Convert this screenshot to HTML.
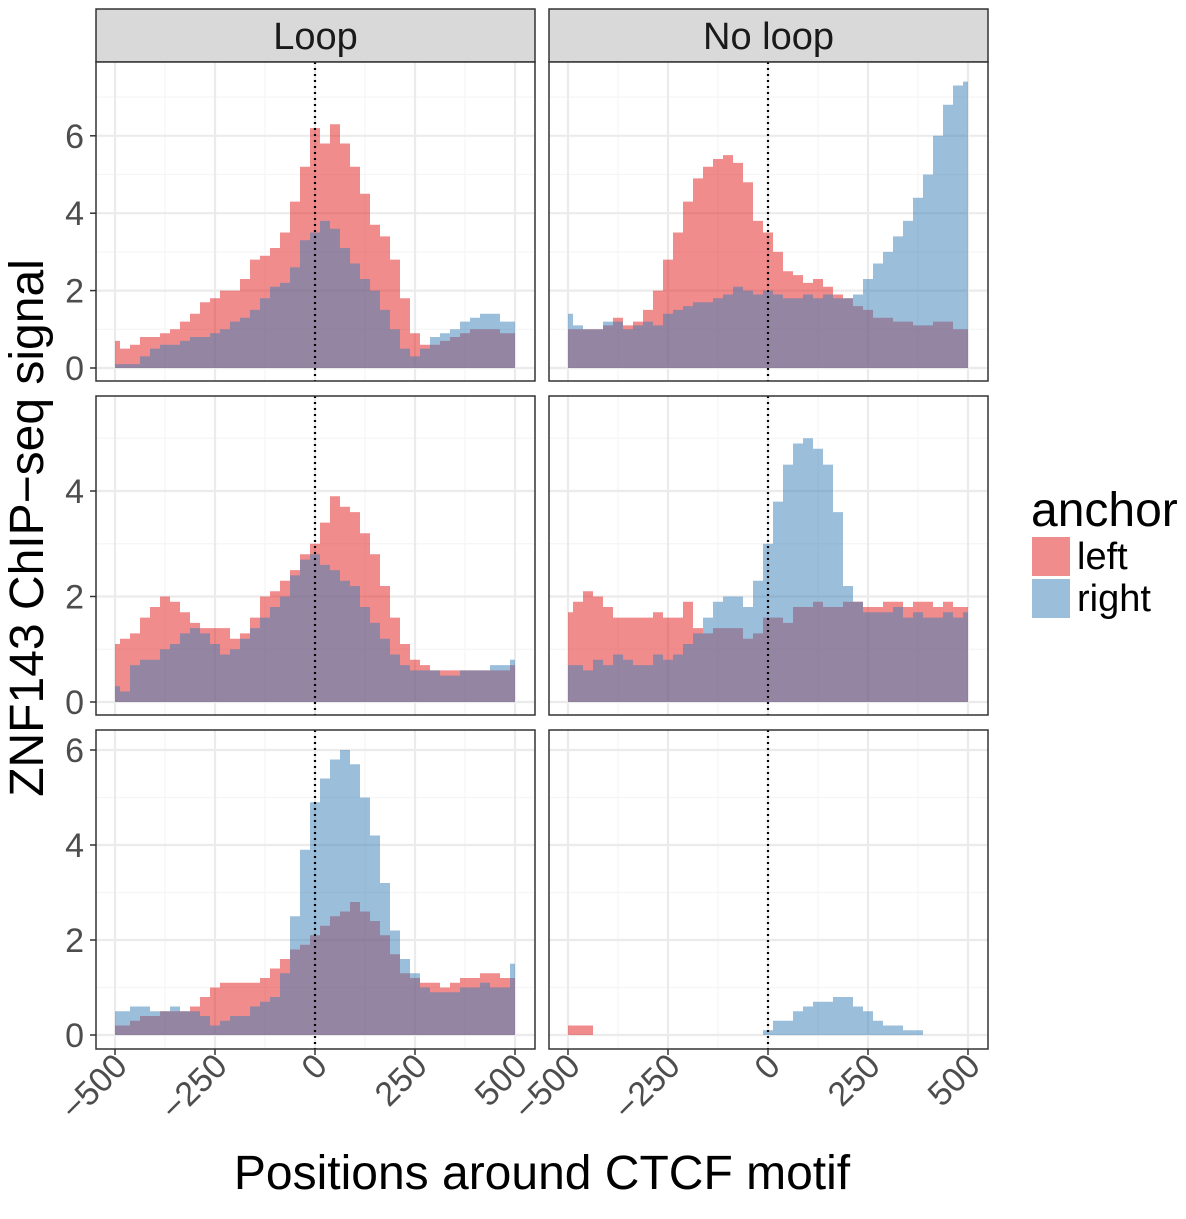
<!DOCTYPE html>
<html><head><meta charset="utf-8"><style>
body{margin:0;background:#fff;}
svg text{font-family:"Liberation Sans",sans-serif;}
</style></head><body>
<svg id="chart" width="1186" height="1214" xmlns="http://www.w3.org/2000/svg">
<g id="root"></g>
</svg>
<script>
const positions=[-500,-475,-450,-425,-400,-375,-350,-325,-300,-275,-250,-225,-200,-175,-150,-125,-100,-75,-50,-25,0,25,50,75,100,125,150,175,200,225,250,275,300,325,350,375,400,425,450,475,500];
const loopTopLeft=[0.7,0.5,0.6,0.8,0.8,0.9,1.0,1.2,1.4,1.7,1.8,2.0,2.0,2.3,2.8,2.9,3.1,3.5,4.3,5.2,6.2,5.8,6.3,5.8,5.2,4.5,3.7,3.4,2.8,1.8,0.9,0.6,0.6,0.7,0.8,0.9,1.0,1.0,1.0,0.9,0.9];
const loopTopRight=[0.1,0.1,0.1,0.3,0.5,0.6,0.6,0.7,0.8,0.8,0.9,1.0,1.2,1.3,1.5,1.8,2.1,2.2,2.6,3.3,3.5,3.8,3.6,3.1,2.7,2.3,2.0,1.5,1.0,0.5,0.3,0.5,0.8,0.9,1.0,1.2,1.3,1.4,1.4,1.2,1.2];
const noLoopTopLeft=[1.0,1.0,1.0,1.0,1.1,1.3,1.1,1.2,1.5,2.0,2.8,3.5,4.3,4.9,5.2,5.4,5.5,5.3,4.8,3.8,3.5,3.0,2.5,2.4,2.2,2.3,2.1,1.9,1.8,1.6,1.5,1.3,1.3,1.2,1.2,1.1,1.1,1.2,1.2,1.0,1.0];
const noLoopTopRight=[1.4,1.1,1.0,1.0,1.2,1.2,1.0,1.1,1.2,1.1,1.4,1.5,1.6,1.7,1.7,1.8,1.9,2.1,2.0,1.9,2.0,1.9,1.8,1.8,1.9,1.8,1.9,1.8,1.8,1.9,2.3,2.7,3.0,3.4,3.8,4.4,5.0,6.0,6.8,7.3,7.4];
const loopMidLeft=[1.1,1.2,1.3,1.6,1.8,2.0,1.9,1.7,1.5,1.4,1.4,1.4,1.2,1.3,1.6,2.0,2.1,2.3,2.5,2.8,3.0,3.4,3.9,3.7,3.6,3.2,2.8,2.2,1.6,1.1,0.8,0.7,0.6,0.6,0.6,0.6,0.6,0.6,0.6,0.6,0.7];
const loopMidRight=[0.3,0.2,0.7,0.8,0.8,1.0,1.1,1.3,1.4,1.3,1.1,0.9,1.0,1.2,1.4,1.6,1.8,2.0,2.4,2.7,2.8,2.6,2.5,2.3,2.2,1.8,1.5,1.2,0.9,0.7,0.6,0.6,0.6,0.5,0.5,0.6,0.6,0.6,0.7,0.7,0.8];
const noLoopMidLeft=[1.7,1.9,2.1,2.0,1.8,1.6,1.6,1.6,1.6,1.7,1.6,1.6,1.9,1.4,1.3,1.4,1.4,1.4,1.2,1.3,1.6,1.6,1.5,1.8,1.8,1.9,1.8,1.8,1.9,1.9,1.8,1.8,1.9,1.9,1.8,1.9,1.9,1.8,1.9,1.8,1.8];
const noLoopMidRight=[0.7,0.7,0.6,0.8,0.7,0.9,0.8,0.7,0.7,0.9,0.8,0.9,1.1,1.3,1.6,1.9,2.0,2.0,1.8,2.3,3.0,3.8,4.5,4.9,5.0,4.8,4.5,3.6,2.2,1.9,1.7,1.7,1.7,1.8,1.6,1.7,1.6,1.6,1.7,1.6,1.7];
const loopBotLeft=[0.2,0.2,0.3,0.4,0.4,0.5,0.5,0.5,0.6,0.8,1.0,1.1,1.1,1.1,1.1,1.2,1.4,1.6,1.8,1.9,2.1,2.3,2.5,2.6,2.8,2.6,2.4,2.1,1.7,1.3,1.2,1.1,1.1,1.0,1.1,1.2,1.2,1.3,1.3,1.2,1.2];
const loopBotRight=[0.5,0.5,0.6,0.6,0.5,0.5,0.6,0.5,0.5,0.4,0.2,0.3,0.4,0.4,0.6,0.7,0.8,1.3,2.5,3.9,4.9,5.4,5.8,6.0,5.7,5.0,4.2,3.2,2.2,1.6,1.3,1.0,0.9,0.9,0.9,1.0,1.0,1.1,1.0,1.0,1.5];
const noLoopBotLeft=[0.2,0.2,0.2,0,0,0,0,0,0,0,0,0,0,0,0,0,0,0,0,0,0,0,0,0,0,0,0,0,0,0,0,0,0,0,0,0,0,0,0,0,0];
const noLoopBotRight=[0,0,0,0,0,0,0,0,0,0,0,0,0,0,0,0,0,0,0,0,0.1,0.3,0.3,0.5,0.6,0.7,0.7,0.8,0.8,0.6,0.5,0.3,0.2,0.2,0.1,0.1,0,0,0,0,0];
const xTicks=[-500,-250,0,250,500];
const xTickLabels=["\u2212500","\u2212250","0","250","500"];
const yTicks=[0,2,4,6];
const facetLabels=["Loop","No loop"];

const NS="http://www.w3.org/2000/svg";
const root=document.getElementById('root');
function mk(tag,attrs,parent){const e=document.createElementNS(NS,tag);for(const k in attrs)e.setAttribute(k,attrs[k]);(parent||root).appendChild(e);return e;}

const cols=[{x0:96,x1:535,left:115,right:515},{x0:549,x1:988,left:568,right:968}];
const rows=[{y0:62,y1:381,zero:368,per:38.7,max:7.8},{y0:396,y1:715,zero:702,per:52.75,max:5.7},{y0:730,y1:1049,zero:1035,per:47.5,max:6.6}];
const data=[[[loopTopLeft,loopTopRight],[noLoopTopLeft,noLoopTopRight]],[[loopMidLeft,loopMidRight],[noLoopMidLeft,noLoopMidRight]],[[loopBotLeft,loopBotRight],[noLoopBotLeft,noLoopBotRight]]];

cols.forEach((c,ci)=>{
  const s=mk('rect',{x:c.x0,y:9,width:c.x1-c.x0,height:53,fill:'#D9D9D9',stroke:'#333',"stroke-width":1.5});
  
  
  const t=mk('text',{x:(c.x0+c.x1)/2,y:49,"font-size":38,"text-anchor":"middle",fill:'#1A1A1A'});
  t.textContent=facetLabels[ci];
  
  
});

rows.forEach((r,ri)=>{
  cols.forEach((c,ci)=>{
    const g=mk('g',{});
    
    
    const xs=v=>c.left+(v+500)*(c.right-c.left)/1000;
    const ys=v=>r.zero-v*r.per;
    mk('rect',{x:c.x0,y:r.y0,width:c.x1-c.x0,height:r.y1-r.y0,fill:'#fff'},g);
    [-375,-125,125,375].forEach(v=>mk('line',{x1:xs(v),x2:xs(v),y1:r.y0,y2:r.y1,stroke:'#F5F5F5',"stroke-width":1.2},g));
    for(let v=1;v<r.max;v+=2){mk('line',{x1:c.x0,x2:c.x1,y1:ys(v),y2:ys(v),stroke:'#F5F5F5',"stroke-width":1.2},g);}
    xTicks.forEach(v=>mk('line',{x1:xs(v),x2:xs(v),y1:r.y0,y2:r.y1,stroke:'#EBEBEB',"stroke-width":2.2},g));
    yTicks.forEach(v=>{if(v<r.max)mk('line',{x1:c.x0,x2:c.x1,y1:ys(v),y2:ys(v),stroke:'#EBEBEB',"stroke-width":2.2},g);});
    const fills=['rgba(228,26,28,0.5)','rgba(55,126,184,0.5)'];
    data[ri][ci].forEach((vals,si)=>{
      let d='M'+xs(-500)+','+ys(0);
      vals.forEach((v,i)=>{
        const a=Math.max(-500,positions[i]-12.5),b=Math.min(500,positions[i]+12.5);
        d+=' L'+xs(a).toFixed(1)+','+ys(v).toFixed(1)+' L'+xs(b).toFixed(1)+','+ys(v).toFixed(1);
      });
      d+=' L'+xs(500)+','+ys(0)+' Z';
      const p=mk('path',{d:d,fill:fills[si]},g);
      
      
    });
    const vl=mk('line',{x1:xs(0),x2:xs(0),y1:r.y0,y2:r.y1,stroke:'#000',"stroke-width":2.2,"stroke-dasharray":"2,4"},g);
    
    
    mk('rect',{x:c.x0,y:r.y0,width:c.x1-c.x0,height:r.y1-r.y0,fill:'none',stroke:'#333',"stroke-width":1.5},g);
    if(ci===0){
      yTicks.forEach(v=>{if(v<r.max){
        mk('line',{x1:90,x2:96,y1:ys(v),y2:ys(v),stroke:'#333',"stroke-width":1.5},g);
        const t=mk('text',{x:84,y:ys(v)+12,"font-size":34,"text-anchor":"end",fill:'#4D4D4D'},g);
        t.textContent=String(v);
        
        
      }});
    }
    if(ri===2){
      xTicks.forEach((v,i)=>{
        mk('line',{x1:xs(v),x2:xs(v),y1:1049,y2:1055,stroke:'#333',"stroke-width":1.5},g);
        const t=mk('text',{x:0,y:0,"font-size":34,"text-anchor":"end",fill:'#4D4D4D',transform:'translate('+(xs(v)+14)+',1068) rotate(-45)'},g);
        t.textContent=xTickLabels[i];
        
        
      });
    }
  });
});

const yt=mk('text',{x:0,y:0,"font-size":48,"text-anchor":"middle",fill:'#000',transform:'translate(43,528) rotate(-90)'});
yt.textContent='ZNF143 ChIP\u2212seq signal';


const xt=mk('text',{x:542,y:1189,"font-size":48,"text-anchor":"middle",fill:'#000'});
xt.textContent='Positions around CTCF motif';



const lg=mk('g',{});


const lt=mk('text',{x:1031,y:526,"font-size":48,fill:'#000'},lg);
lt.textContent='anchor';


[['left','rgba(228,26,28,0.5)',537],['right','rgba(55,126,184,0.5)',579]].forEach(e=>{
  const k=mk('rect',{x:1032,y:e[2],width:38,height:39,fill:e[1]},lg);
  
  
  const t=mk('text',{x:1077,y:e[2]+32,"font-size":38,fill:'#000'},lg);
  t.textContent=e[0];
  
  
});
</script>
</body></html>
